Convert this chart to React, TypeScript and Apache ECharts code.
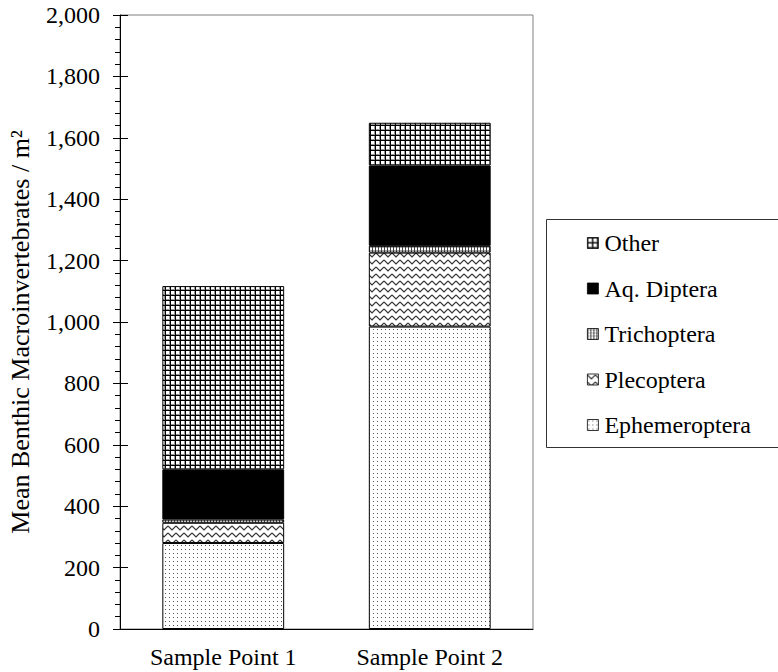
import React, { useEffect, useRef } from "react";
import * as echarts from "echarts";

const categories = ["Sample Point 1", "Sample Point 2"];
const ephemeroptera = [280, 985];
const plecoptera = [66, 241];
const trichoptera = [11, 22];
const aqDiptera = [163, 262];
const other = [597, 139];
const legendOrder = ["Other", "Aq. Diptera", "Trichoptera", "Plecoptera", "Ephemeroptera"];
const yTitle = "Mean Benthic Macroinvertebrates / m²";

const FONT = "Liberation Serif, Times New Roman, serif";

function makeTile(w: number, h: number, draw: (ctx: CanvasRenderingContext2D) => void) {
  const c = document.createElement("canvas");
  c.width = w;
  c.height = h;
  const ctx = c.getContext("2d")!;
  ctx.fillStyle = "#fff";
  ctx.fillRect(0, 0, w, h);
  draw(ctx);
  return { image: c, repeat: "repeat", imageWidth: w, imageHeight: h } as any;
}

export default function App() {
  const ref = useRef<HTMLDivElement>(null);
  useEffect(() => {
    document.body.style.margin = "0";
    const chart = echarts.init(ref.current!, null, { renderer: "svg" });

    const dots = makeTile(4, 4, (ctx) => {
      ctx.fillStyle = "#555";
      ctx.fillRect(1, 1, 1, 1);
    });
    const zig = makeTile(8, 7, (ctx) => {
      ctx.strokeStyle = "#333";
      ctx.lineWidth = 1.2;
      ctx.beginPath();
      ctx.moveTo(0, 1);
      ctx.lineTo(4, 5);
      ctx.lineTo(8, 1);
      ctx.stroke();
    });
    const stripes = makeTile(3, 3, (ctx) => {
      ctx.fillStyle = "#444";
      ctx.fillRect(0, 0, 1, 3);
      ctx.fillStyle = "#aaa";
      ctx.fillRect(1, 1, 2, 1);
    });
    const grid = makeTile(5, 5, (ctx) => {
      ctx.fillStyle = "#000";
      ctx.fillRect(0, 0, 5, 1);
      ctx.fillRect(0, 0, 1, 5);
      ctx.fillStyle = "#999";
      ctx.fillRect(4, 1, 1, 4);
      ctx.fillRect(1, 4, 4, 1);
    });

    const mk = (name: string, data: number[], color: any) => ({
      name,
      type: "bar",
      stack: "total",
      data,
      barWidth: "59%",
      itemStyle: { color, borderColor: "#000", borderWidth: 1 },
      emphasis: { disabled: true },
    });

    chart.setOption({
      animation: false,
      textStyle: { fontFamily: "Liberation Serif" },
      grid: {
        left: 120,
        right: 245,
        top: 15,
        bottom: 43,
        show: true,
        borderColor: "#808080",
        borderWidth: 1,
        backgroundColor: "transparent",
      },
      legend: {
        orient: "vertical",
        left: 587,
        top: 231,
        data: legendOrder,
        icon: "rect",
        itemWidth: 11,
        itemHeight: 11,
        itemGap: 21.5,
        padding: 0,
        itemStyle: { borderColor: "#000", borderWidth: 0.8 },
        textStyle: { fontFamily: "'Liberation Serif', serif", fontSize: 24, color: "#000", lineHeight: 24, padding: [0, 0, 0, 1] },
      },
      xAxis: {
        type: "category",
        data: categories,
        axisLine: { lineStyle: { color: "#000", width: 1 } },
        axisTick: { show: false },
        axisLabel: { fontFamily: "Liberation Serif", fontSize: 24, color: "#000", margin: 16 },
      },
      yAxis: [
        {
          type: "value",
          min: 0,
          max: 2000,
          interval: 200,
          axisLine: { show: true, lineStyle: { color: "#000", width: 1 } },
          axisTick: { show: true, length: 7, lineStyle: { color: "#000" } },
          minorTick: { show: true, splitNumber: 5, length: 5, lineStyle: { color: "#000" } },
          splitLine: { show: false },
          axisLabel: {
            fontFamily: "serif",
            fontSize: 24,
            color: "#000",
            margin: 20,
            formatter: (v: number) => v.toLocaleString("en-US"),
          },
        },
        {
          type: "value",
          position: "left",
          min: 0,
          max: 2000,
          interval: 200,
          axisLine: { show: false },
          axisTick: { show: true, inside: true, length: 8, lineStyle: { color: "#000" } },
          axisLabel: { show: false },
          splitLine: { show: false },
        },
      ],
      graphic: [
        {
          type: "text",
          x: 20,
          y: 332,
          rotation: Math.PI / 2,
          style: {
            text: yTitle,
            font: `26px ${FONT}`,
            fill: "#000",
            align: "center",
            verticalAlign: "middle",
          },
        },
        {
          type: "rect",
          shape: { x: 546.5, y: 219.5, width: 240, height: 228 },
          style: { fill: "none", stroke: "#333", lineWidth: 1 },
          silent: true,
        },
      ],
      series: [
        mk("Ephemeroptera", ephemeroptera, dots),
        mk("Plecoptera", plecoptera, zig),
        mk("Trichoptera", trichoptera, stripes),
        mk("Aq. Diptera", aqDiptera, "#000"),
        mk("Other", other, grid),
      ],
    });
    return () => chart.dispose();
  }, []);
  return <div ref={ref} style={{ width: 778, height: 672 }} />;
}
